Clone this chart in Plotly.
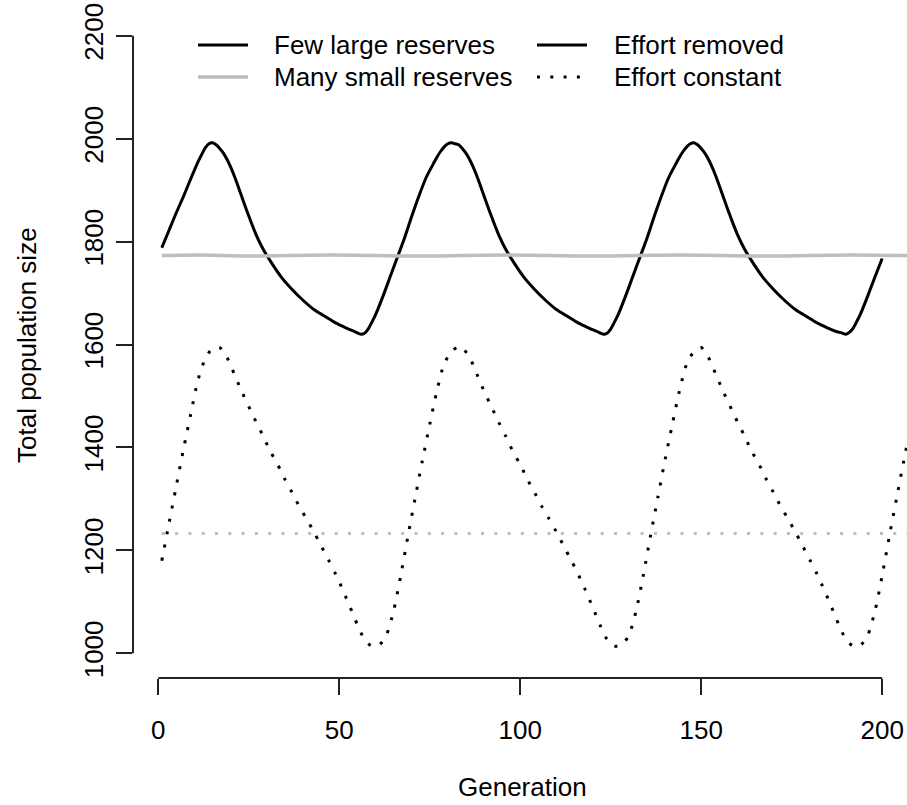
import plotly.graph_objects as go

# ---------------- data ----------------
# Few large reserves, effort removed (black solid)
gen_large_removed = [1, 3, 5, 7, 9, 11, 12, 13, 14, 15, 16, 17, 18, 19, 20, 21, 22, 23, 25, 27, 29, 31, 34, 37, 40, 43, 46, 49, 52, 54, 56,
                     57, 58, 59, 60, 62, 64, 66, 68, 70, 72, 74, 76, 77, 78, 79, 80, 81, 82,
                     83, 84, 85, 86, 87, 88, 89, 90, 92, 94, 96, 98, 101, 104, 107, 110, 113, 116, 119, 121, 123,
                     124, 125, 126, 127, 129, 131, 133, 135, 137, 139, 141, 143, 144, 145, 146, 147, 148,
                     149, 150, 151, 152, 153, 154, 155, 156, 158, 160, 162, 164, 167, 170, 173, 176, 179, 182, 185, 187, 189,
                     190, 191, 192, 193, 194, 196, 198, 200]
pop_large_removed = [1788, 1822, 1856, 1888, 1922, 1955, 1969, 1982, 1990, 1992, 1988, 1981, 1972, 1960, 1945, 1928, 1909, 1889, 1850, 1814, 1785, 1762, 1731, 1707, 1686, 1668, 1655, 1642, 1632, 1626, 1620,
                     1622, 1630, 1643, 1657, 1692, 1730, 1768, 1806, 1848, 1888, 1924, 1951, 1964, 1975, 1984, 1990, 1992, 1990,
                     1988, 1981, 1972, 1960, 1945, 1928, 1909, 1889, 1850, 1814, 1785, 1762, 1731, 1707, 1686, 1668, 1655, 1642, 1632, 1626, 1620,
                     1622, 1630, 1643, 1657, 1692, 1730, 1768, 1806, 1848, 1888, 1924, 1951, 1964, 1975, 1984, 1990, 1992,
                     1988, 1981, 1972, 1960, 1945, 1928, 1909, 1889, 1850, 1814, 1785, 1762, 1731, 1707, 1686, 1668, 1655, 1642, 1632, 1626, 1622,
                     1620, 1624, 1632, 1645, 1659, 1694, 1731, 1767]

# Many small reserves, effort removed (grey solid)
gen_small_removed = [1, 12, 24, 36, 48, 60, 72, 84, 96, 108, 120, 132, 144, 156, 168, 180, 192, 204, 216]
pop_small_removed = [1773, 1774, 1772, 1773, 1774, 1773, 1772, 1773, 1774, 1773, 1772, 1773, 1774, 1773, 1772, 1773, 1774, 1773, 1773]

# Few large reserves, effort constant (black dotted)
gen_large_constant = [1, 3, 5, 7, 9, 11, 13, 15, 17, 19, 21, 23, 25, 27, 29, 31, 33, 35, 37, 39, 41, 43, 45, 47, 49, 51, 53, 55, 57, 59,
                      61, 63, 65, 67, 69, 71, 73, 75, 77, 79, 81, 83,
                      84, 86, 88, 90, 92, 94, 96, 98, 100, 102, 104, 106, 108, 110, 112, 114, 116, 118, 120, 122, 124, 126,
                      128, 130, 132, 134, 136, 138, 140, 142, 144, 146, 148,
                      150, 152, 154, 156, 158, 160, 162, 164, 166, 168, 170, 172, 174, 176, 178, 180, 182, 184, 186, 188, 190, 192,
                      194, 196, 198, 200, 202, 204, 206, 208, 210]
pop_large_constant = [1180, 1253, 1325, 1397, 1465, 1531, 1572, 1592, 1594, 1575, 1543, 1510, 1480, 1450, 1422, 1392, 1367, 1338, 1312, 1285, 1261, 1236, 1209, 1182, 1154, 1123, 1090, 1056, 1027, 1014,
                      1016, 1035, 1082, 1151, 1228, 1302, 1375, 1444, 1510, 1562, 1586, 1596,
                      1594, 1575, 1543, 1510, 1480, 1450, 1422, 1392, 1367, 1338, 1312, 1285, 1261, 1236, 1209, 1182, 1154, 1123, 1090, 1056, 1027, 1014,
                      1016, 1035, 1082, 1151, 1228, 1302, 1375, 1444, 1510, 1562, 1586,
                      1594, 1575, 1543, 1510, 1480, 1450, 1422, 1392, 1367, 1338, 1312, 1285, 1261, 1236, 1209, 1182, 1154, 1123, 1090, 1056, 1027, 1014,
                      1016, 1035, 1082, 1151, 1228, 1302, 1375, 1444, 1510]

# Many small reserves, effort constant (grey dotted)
gen_small_constant = [1, 20, 40, 60, 80, 100, 120, 140, 160, 180, 200, 216]
pop_small_constant = [1233, 1233, 1233, 1233, 1233, 1233, 1233, 1233, 1233, 1233, 1233, 1233]

x_ticks = [0, 50, 100, 150, 200]
y_ticks = [1000, 1200, 1400, 1600, 1800, 2000, 2200]

legend_col1 = ["Few large reserves", "Many small reserves"]
legend_col2 = ["Effort removed", "Effort constant"]

# ---------------- styling ----------------
FONT = "Liberation Sans, Arial, Helvetica, sans-serif"
FS = 26
BLACK = "#000000"
GREY = "#bebebe"
DOT = "3px,10.3px"

W, H = 907, 805
ML, MR, MT, MB = 133, 0, 11, 127
PW, PH = W - ML - MR, H - MT - MB


def px_x(p):
    return (p - ML) / PW


def px_y(p):
    return (H - MB - p) / PH


fig = go.Figure()
fig.add_trace(go.Scatter(x=gen_large_removed, y=pop_large_removed, mode="lines",
                         line=dict(color=BLACK, width=3, shape="spline", smoothing=0.8), showlegend=False))
fig.add_trace(go.Scatter(x=gen_small_removed, y=pop_small_removed, mode="lines",
                         line=dict(color=GREY, width=3.5, shape="spline", smoothing=0.8), showlegend=False))
fig.add_trace(go.Scatter(x=gen_large_constant, y=pop_large_constant, mode="lines",
                         line=dict(color=BLACK, width=3, dash=DOT, shape="spline", smoothing=0.8), showlegend=False))
fig.add_trace(go.Scatter(x=gen_small_constant, y=pop_small_constant, mode="lines",
                         line=dict(color=GREY, width=3, dash=DOT), showlegend=False))

axis_common = dict(showgrid=False, zeroline=False, showline=False, ticks="outside", ticklen=16,
                   tickwidth=2, tickcolor="#222", tickfont=dict(family=FONT, size=FS, color=BLACK))

fig.update_xaxes(range=[-6.96, 206.86], tickvals=x_ticks, ticktext=[str(v) for v in x_ticks],
                 ticklabelstandoff=13, **axis_common)
fig.update_yaxes(range=[952, 2248], tickvals=y_ticks, ticktext=[str(v) for v in y_ticks],
                 tickangle=-90, ticklabelstandoff=3, **axis_common)

shapes = [
    dict(type="line", xref="x", yref="paper", x0=x_ticks[0], x1=x_ticks[-1], y0=0, y1=0,
         line=dict(color="#222", width=2)),
    dict(type="line", xref="paper", yref="y", x0=0, x1=0, y0=y_ticks[0], y1=y_ticks[-1],
         line=dict(color="#222", width=2)),
]

annotations = [
    dict(text="Generation", xref="paper", yref="paper", x=px_x(522), y=px_y(787),
         xanchor="center", yanchor="middle", showarrow=False, font=dict(family=FONT, size=FS, color=BLACK)),
    dict(text="Total population size", xref="paper", yref="paper", x=px_x(27), y=px_y(345),
         xanchor="center", yanchor="middle", textangle=-90, showarrow=False,
         font=dict(family=FONT, size=FS, color=BLACK)),
]

# legend (drawn manually, two columns like base R legend)
row_y = [45, 77]
col1_line = (198, 248)
col1_text = 272
col2_line = (537, 587)
col2_text = 612
col1_styles = [dict(color=BLACK, width=3), dict(color=GREY, width=3.5)]
col2_styles = [dict(color=BLACK, width=3), dict(color=BLACK, width=3, dash=DOT)]
for i in range(2):
    yy = px_y(row_y[i])
    shapes.append(dict(type="line", xref="paper", yref="paper", x0=px_x(col1_line[0]), x1=px_x(col1_line[1]),
                       y0=yy, y1=yy, line=col1_styles[i]))
    shapes.append(dict(type="line", xref="paper", yref="paper", x0=px_x(col2_line[0]), x1=px_x(col2_line[1]),
                       y0=yy, y1=yy, line=col2_styles[i]))
    annotations.append(dict(text=legend_col1[i], xref="paper", yref="paper", x=px_x(col1_text), y=yy,
                            xanchor="left", yanchor="middle", showarrow=False,
                            font=dict(family=FONT, size=FS, color=BLACK)))
    annotations.append(dict(text=legend_col2[i], xref="paper", yref="paper", x=px_x(col2_text), y=yy,
                            xanchor="left", yanchor="middle", showarrow=False,
                            font=dict(family=FONT, size=FS, color=BLACK)))

fig.update_layout(width=W, height=H, autosize=False,
                  margin=dict(l=ML, r=MR, t=MT, b=MB, pad=0),
                  paper_bgcolor="white", plot_bgcolor="white",
                  shapes=shapes, annotations=annotations, showlegend=False)

fig.write_html("out.html")
